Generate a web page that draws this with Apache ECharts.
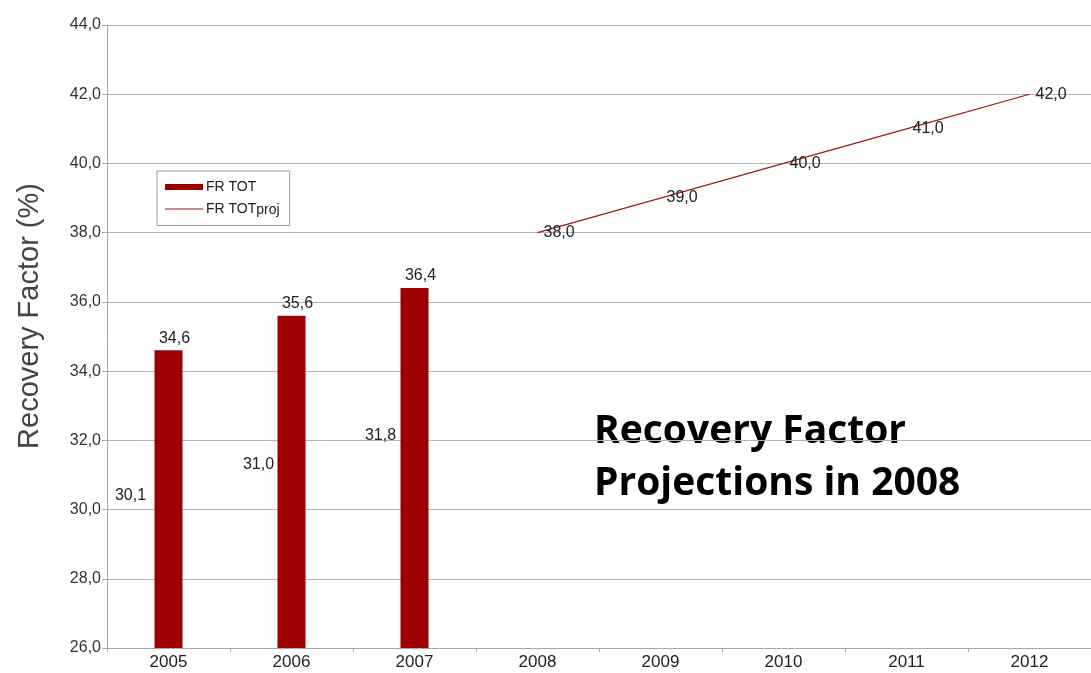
<!DOCTYPE html>
<html>
<head>
<meta charset="utf-8">
<script src="https://cdn.jsdelivr.net/npm/echarts@6/dist/echarts.min.js"></script>
<style>
  html, body { margin: 0; padding: 0; background: #ffffff; }
  #chart { width: 1091px; height: 673px; }
</style>
</head>
<body>
<div id="chart"></div>
<script>
// Years on the category axis
const years = ['2005', '2006', '2007', '2008', '2009', '2010', '2011', '2012'];
// Measured recovery factor (bars)
const frTot = [34.6, 35.6, 36.4, null, null, null, null, null];
// Projected recovery factor (line)
const frTotProj = [null, null, null, 38.0, 39.0, 40.0, 41.0, 42.0];
// Secondary values printed beside the bars
const frBase = [30.1, 31.0, 31.8, null, null, null, null, null];
const frBaseLabelShift = [[-38, -11], [-33, -10], [-34, -12], null, null, null, null, null];
// Value axis ticks
const yMin = 26, yMax = 44, yStep = 2;

const fmt = v => Number(v).toFixed(1).replace('.', ',');
const textFont = 'Liberation Sans, Arial, sans-serif';

const chart = echarts.init(document.getElementById('chart'), null, { renderer: 'canvas' });

chart.setOption({
  backgroundColor: '#ffffff',
  animation: false,
  grid: { left: 107, right: 0, top: 25, bottom: 25, containLabel: false },
  legend: {
    left: 157, top: 171, orient: 'vertical',
    borderColor: '#9a9a9a', borderWidth: 1,
    padding: [9, 10, 8, 8], itemGap: 8,
    itemWidth: 38, itemHeight: 6,
    textStyle: {
      fontFamily: textFont, fontSize: 14, color: '#222', padding: [0, 0, 0, -2],
      rich: {
        n: { fontFamily: textFont, fontSize: 14, color: '#222' },
        s: { fontFamily: textFont, fontSize: 14, color: '#222', padding: [3, 0, 0, 0] }
      }
    },
    formatter: name => name.endsWith('proj')
      ? '{n|' + name.slice(0, -4) + '}{s|proj}'
      : '{n|' + name + '}',
    data: [
      { name: 'FR TOT', icon: 'rect' },
      { name: 'FR TOTproj', icon: 'path://M0,0 L38,0 L38,1 L0,1 Z' }
    ]
  },
  xAxis: {
    type: 'category', data: years, boundaryGap: true,
    axisLine: { lineStyle: { color: '#a8a8a8', width: 1 } },
    axisTick: { show: true, length: 4, lineStyle: { color: '#a8a8a8' } },
    axisLabel: { fontFamily: textFont, fontSize: 17, color: '#222', margin: 6 },
    splitLine: { show: false }
  },
  yAxis: {
    type: 'value', min: yMin, max: yMax, interval: yStep,
    axisLine: { show: true, lineStyle: { color: '#a8a8a8', width: 1 } },
    axisTick: { show: true, length: 5, lineStyle: { color: '#a8a8a8' } },
    axisLabel: { fontFamily: textFont, fontSize: 16, color: '#333', margin: 6, formatter: fmt },
    splitLine: { show: true, lineStyle: { color: '#b4b4b4', width: 1 } }
  },
  graphic: [
    {
      // value axis title
      type: 'text', x: 30, y: 316, rotation: Math.PI / 2, silent: true,
      style: {
        text: 'Recovery Factor (%)',
        font: '29px "Liberation Sans", Arial, sans-serif',
        fill: '#444', align: 'center', verticalAlign: 'middle'
      }
    },
    {
      type: 'text', left: 594, top: 406, silent: true,
      style: {
        text: 'Recovery Factor\nProjections in 2008',
        font: 'bold 39px "Open Sans", sans-serif',
        lineHeight: 52, fill: '#000000'
      }
    }
  ],
  series: [
    {
      name: 'FR TOT', type: 'bar', data: frTot, barWidth: 28,
      itemStyle: { color: '#9c0000' },
      label: {
        show: true, position: 'top', distance: 4, offset: [6, 0],
        fontFamily: textFont, fontSize: 16, color: '#222',
        formatter: p => fmt(p.value)
      }
    },
    {
      name: 'FR TOTproj', type: 'line', data: frTotProj,
      showSymbol: true, symbol: 'circle', symbolSize: 0.1, connectNulls: false,
      lineStyle: { color: '#9c1a1a', width: 1.2 },
      itemStyle: { color: '#9c1a1a' },
      label: {
        show: true, position: 'right', distance: 6,
        fontFamily: textFont, fontSize: 16, color: '#222',
        formatter: p => fmt(p.value)
      }
    },
    {
      name: 'FR', type: 'scatter', symbolSize: 0,
      itemStyle: { color: '#ffffff', opacity: 1 },
      data: frBase.map((v, i) => v == null ? null : {
        value: v,
        label: { offset: frBaseLabelShift[i] }
      }),
      label: {
        show: true, position: 'inside',
        fontFamily: textFont, fontSize: 16, color: '#222',
        formatter: p => fmt(p.value)
      }
    }
  ]
});
</script>
</body>
</html>
